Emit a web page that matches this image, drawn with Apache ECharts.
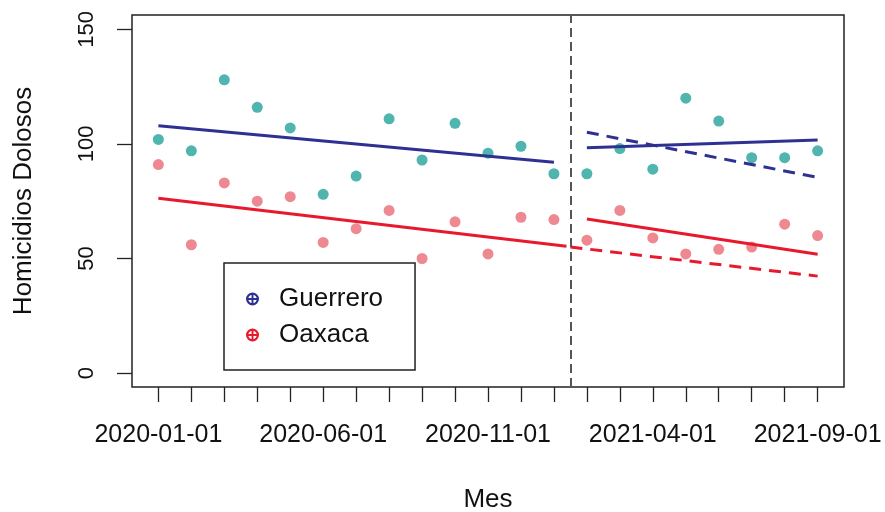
<!DOCTYPE html>
<html>
<head>
<meta charset="utf-8">
<script src="https://cdn.jsdelivr.net/npm/echarts@6/dist/echarts.min.js"></script>
<style>
  html, body { margin: 0; padding: 0; background: #fff; }
  #main { width: 885px; height: 512px; }
</style>
</head>
<body>
<div id="main"></div>
<script>
// meses (índice 0 = 2020-01-01)
const months = ['2020-01-01','2020-02-01','2020-03-01','2020-04-01','2020-05-01','2020-06-01',
  '2020-07-01','2020-08-01','2020-09-01','2020-10-01','2020-11-01','2020-12-01','2021-01-01',
  '2021-02-01','2021-03-01','2021-04-01','2021-05-01','2021-06-01','2021-07-01','2021-08-01','2021-09-01'];
const guerrero = [102, 97, 128, 116, 107, 78, 86, 111, 93, 109, 96, 99, 87,
  87, 98, 89, 120, 110, 94, 94, 97];
const oaxaca = [91, 56, 83, 75, 77, 57, 63, 71, 50, 66, 52, 68, 67,
  58, 71, 59, 52, 54, 55, 65, 60];
// rectas de tendencia [mes, valor]
const guerreroPre = [[0, 107.9], [12, 92.0]];
const guerreroPost = [[13, 98.4], [20, 101.7]];
const guerreroCf = [[13, 105.1], [20, 85.4]];
const oaxacaPre = [[0, 76.3], [12.38, 55.3]];
const oaxacaPost = [[13, 67.2], [20, 51.9]];
const oaxacaCf = [[12.5, 55.0], [20, 42.3]];
const corte = 12.5;
const yTicks = [0, 50, 100, 150];
const xTicks = months.map((m, i) => i);
const xLabels = [0, 5, 10, 15, 20];

const font = 'Liberation Sans';
const azul = '#2E3192';
const rojo = '#E8192C';
const ringCross = 'path://M10,0 A10,10 0 1,1 9.99,0 Z M10,3.5 A6.5,6.5 0 1,0 10.01,3.5 Z M3.5,8.5 H16.5 V11.5 H3.5 Z M8.5,3.5 H11.5 V16.5 H8.5 Z';

const trend = (name, data, color, dashed) => ({
    name: name,
    type: 'line',
    data: data,
    symbol: 'none',
    color: color,
    lineStyle: {color: color, width: 3, type: dashed ? [12, 8] : 'solid'},
});

const option = {
    animation: false,
    grid: {
        left: 132, right: 41, top: 15, bottom: 125,
        outerBoundsMode: 'none',
        containLabel: false,
        show: true, borderColor: '#222', borderWidth: 1.5,
    },
    legend: {
        left: 224, top: 263,
        orient: 'vertical',
        padding: [21, 32, 20, 22],
        itemGap: 6,
        itemWidth: 13, itemHeight: 13,
        borderColor: '#222', borderWidth: 1.5,
        textStyle: {fontFamily: font, fontSize: 26, color: '#111', lineHeight: 30, padding: [0, 0, 0, 15]},
        data: [
            {name: 'Guerrero', icon: ringCross, itemStyle: {color: azul}},
            {name: 'Oaxaca', icon: ringCross, itemStyle: {color: rojo}},
        ],
        selectedMode: false,
    },
    xAxis: {
        type: 'value',
        min: -0.8, max: 20.8,
        name: 'Mes',
        nameLocation: 'middle',
        nameGap: 100,
        nameTextStyle: {fontFamily: font, fontSize: 26, color: '#111'},
        axisLine: {show: false, onZero: false},
        splitLine: {show: false},
        axisTick: {show: true, length: 15, customValues: xTicks, lineStyle: {color: '#222', width: 1.3}},
        axisLabel: {
            customValues: xLabels,
            margin: 36,
            fontFamily: font, fontSize: 25, color: '#111',
            formatter: v => months[Math.round(v)],
        },
    },
    yAxis: {
        type: 'value',
        min: -6.1, max: 156.3,
        name: 'Homicidios Dolosos',
        nameLocation: 'middle',
        nameRotate: 90,
        nameGap: 95,
        nameTextStyle: {fontFamily: font, fontSize: 26, color: '#111'},
        axisLine: {show: false, onZero: false},
        splitLine: {show: false},
        axisTick: {show: true, length: 15, customValues: yTicks, lineStyle: {color: '#222', width: 1.3}},
        axisLabel: {
            customValues: yTicks,
            rotate: 90,
            margin: 34,
            fontFamily: font, fontSize: 22, color: '#111',
        },
    },
    series: [
        {
            name: 'Guerrero puntos',
            type: 'scatter',
            data: guerrero.map((v, i) => [i, v]),
            symbolSize: 11,
            itemStyle: {color: '#4FB5AE', opacity: 1},
            markLine: {
                silent: true,
                symbol: 'none',
                label: {show: false},
                lineStyle: {color: '#555', width: 2, type: [9, 5]},
                data: [{xAxis: corte}],
            },
        },
        {
            name: 'Oaxaca puntos',
            type: 'scatter',
            data: oaxaca.map((v, i) => [i, v]),
            symbolSize: 11,
            itemStyle: {color: '#EE8992', opacity: 1},
        },
        trend('Guerrero', guerreroPre, azul, false),
        trend('Guerrero', guerreroPost, azul, false),
        trend('Guerrero', guerreroCf, azul, true),
        trend('Oaxaca', oaxacaPre, rojo, false),
        trend('Oaxaca', oaxacaPost, rojo, false),
        trend('Oaxaca', oaxacaCf, rojo, true),
    ],
};

const myChart = echarts.init(document.getElementById('main'));
myChart.setOption(option);
</script>
</body>
</html>
